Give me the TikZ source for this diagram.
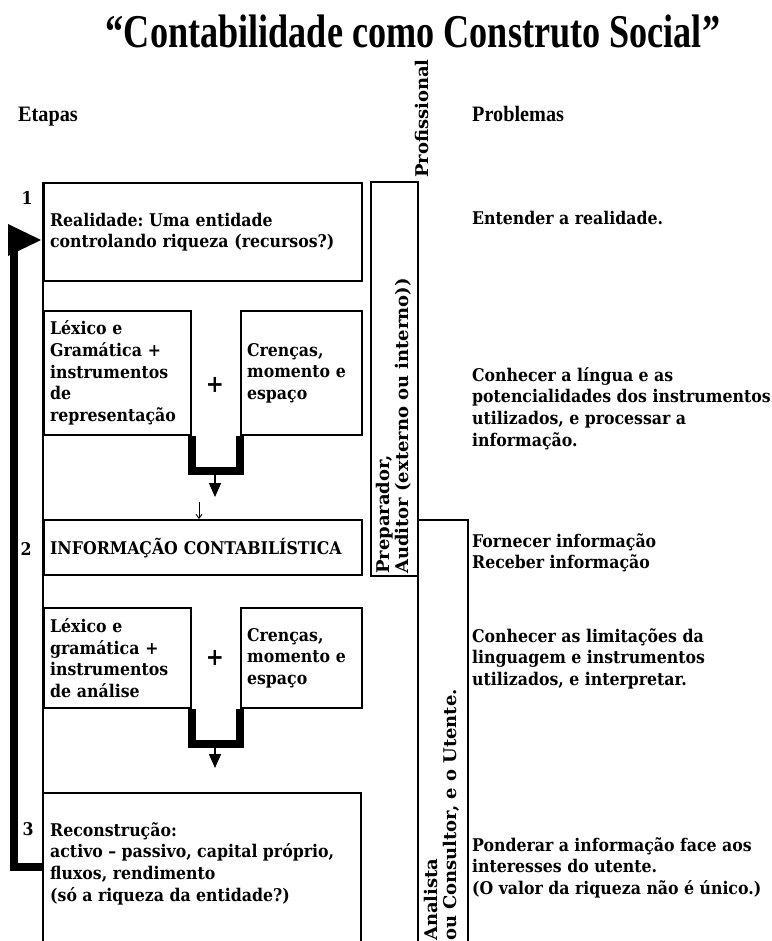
\documentclass[tikz,border=0pt]{standalone}
\usepackage{fontspec}
\usepackage{graphicx}
\usetikzlibrary{arrows.meta}

\newfontfamily\bodyfam{DejaVu Serif Condensed}
\newfontfamily\headfam{Liberation Serif}
\newcommand\body{\bodyfam\bfseries\fontsize{17.5}{21.7}\selectfont\frenchspacing}
\newcommand\side{\bodyfam\bfseries\fontsize{17.5}{16}\selectfont\frenchspacing}
\newcommand\headfont{\headfam\bfseries}
\newcommand\vtext[1]{\scalebox{1.14}[1]{\begin{tabular}{@{}l@{}}#1\end{tabular}}}

\tikzset{
	rule/.style={line width=2.2pt},
	box/.style={draw, line width=2.2pt, anchor=north west, inner xsep=6pt, inner ysep=0pt, align=left, font=\body},
	prob/.style={anchor=north west, inner sep=0pt, align=left, font=\body, execute at begin node=\strut},
	head/.style={anchor=base west, inner sep=0pt, font=\headfont\fontsize{22}{24}\selectfont},
	num/.style={inner sep=0pt, font=\body},
	plus/.style={inner sep=0pt, font=\bodyfam\bfseries\fontsize{24}{24}\selectfont},
	side/.style={rotate=90, anchor=south west, inner sep=0pt, font=\side},
	ubar/.style={line width=8pt},
	down/.style={line width=1.5pt, -{Triangle[length=14pt,width=12pt]}},
	thin/.style={line width=0.9pt, -{Straight Barb[length=4pt,width=6pt]}}
}

\begin{document}
\begin{tikzpicture}[x=1pt, y=-1pt]
	\useasboundingbox (0,0) rectangle (771,941);
	
	% titles
	\node[inner sep=0pt, font=\headfont\fontsize{47}{50}\selectfont] (title) at (413,31) {\scalebox{0.77}[1]{“Contabilidade como Construto Social”}};
	\node[head] (etapas) at (18,122) {\scalebox{0.92}[1]{Etapas}};
	\node[head] (problemas) at (472,122) {\scalebox{0.92}[1]{Problemas}};
	
	% etapas column
	\draw[rule] (43,182) -- (43,941);
	
	\node[box, minimum width=318pt, minimum height=98pt, text width=306pt] (realidade) at (43,182) {Realidade: Uma entidade\\controlando riqueza (recursos?)};
	\node[num] (n1) at (27,198) {1};
	
	\node[box, minimum width=147pt, minimum height=124pt, text width=135pt] (lexico1) at (43,310) {Léxico e\\Gramática +\\instrumentos\\de\\representação};
	\node[box, minimum width=121pt, minimum height=124pt, text width=109pt] (crencas1) at (240,310) {Crenças,\\momento e\\espaço};
	\node[plus] (plus1) at (215,385) {+};
	
	\coordinate (u1) at (215,469);
	\coordinate (tip1) at (215,497);
	\draw[ubar] (lexico1.south east) -- ++(0,35) -| (crencas1.south west);
	\draw[down] (u1) -- (tip1);
	
	\coordinate (small) at (199,502);
	\node[box, minimum width=318pt, minimum height=55pt, text width=306pt] (info) at (43,519) {INFORMAÇÃO CONTABILÍSTICA};
	\draw[thin] (small) -- (small |- info.north);
	\node[num] (n2) at (26,549) {2};
	
	\node[box, minimum width=147pt, minimum height=100pt, text width=135pt] (lexico2) at (43,607) {Léxico e\\gramática +\\instrumentos\\de análise};
	\node[box, minimum width=121pt, minimum height=100pt, text width=109pt] (crencas2) at (240,607) {Crenças,\\momento e\\espaço};
	\node[plus] (plus2) at (215,658) {+};
	
	\coordinate (u2) at (215,742);
	\coordinate (tip2) at (215,768);
	\draw[ubar] (lexico2.south east) -- ++(0,35) -| (crencas2.south west);
	\draw[down] (u2) -- (tip2);
	
	\draw[rule] (43,793) -- (361,793) -- (361,941);
	\node[prob] (recon) at (50,822) {Reconstrução:\\activo – passivo, capital próprio,\\fluxos, rendimento\\(só a riqueza da entidade?)};
	\node[num] (n3) at (28,829) {3};
	
	% feedback arrow
	\coordinate (back) at (43,867);
	\coordinate (loop) at (14,248);
	\draw[ubar] (back) -| (loop);
	\fill (8,224) -- (41,240) -- (8,256) -- cycle;
	
	% profissional column
	\draw[rule] (371,182) rectangle (418,576);
	\draw[rule] (418,182) -- (418,941);
	\draw[rule] (418,520) -- (468,520) -- (468,941);
	\node[side] (profissional) at (433,178) {\vtext{Profissional}};
	\node[side] (preparador) at (413,574) {\vtext{Preparador,\\Auditor (externo ou interno))}};
	\node[side] (analista) at (461,941) {\vtext{Analista\\ou Consultor, e o Utente.}};
	
	% problemas column
	\node[prob] (p1) at (472,209) {Entender a realidade.};
	\node[prob] (p2) at (472,367) {Conhecer a língua e as\\potencialidades dos instrumentos\\utilizados, e processar a\\informação.};
	\node[prob] (p3) at (472,533) {Fornecer informação\\Receber informação};
	\node[prob] (p4) at (472,628) {Conhecer as limitações da\\linguagem e instrumentos\\utilizados, e interpretar.};
	\node[prob] (p5) at (472,837) {Ponderar a informação face aos\\interesses do utente.\\(O valor da riqueza não é único.)};
\end{tikzpicture}
\end{document}
